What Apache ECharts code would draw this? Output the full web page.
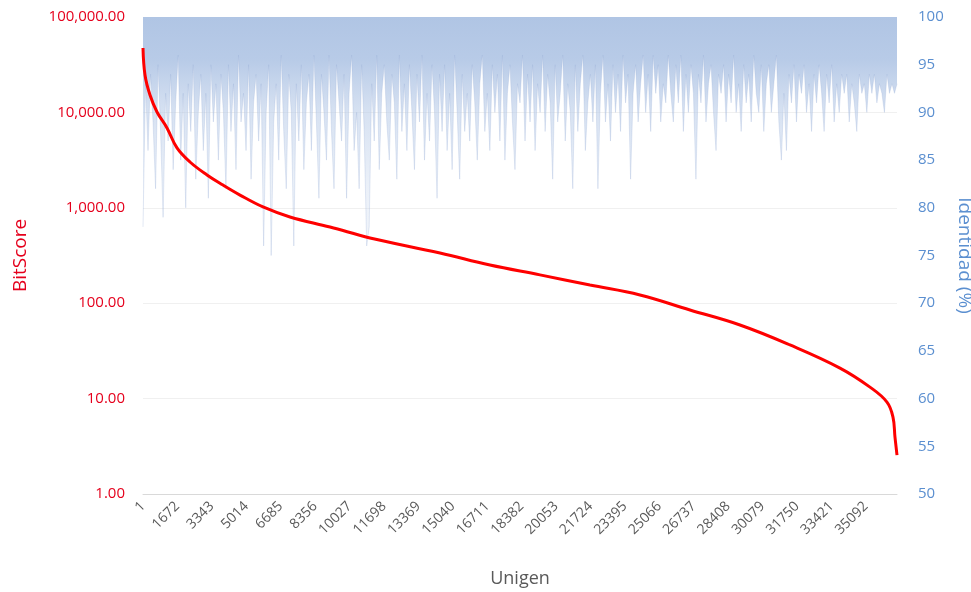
<!DOCTYPE html>
<html><head><meta charset="utf-8">
<script src="https://cdn.jsdelivr.net/npm/echarts@6/dist/echarts.min.js"></script>
<style>html,body{margin:0;padding:0;background:#fff}#c{width:971px;height:592px}</style>
</head><body><div id="c"></div>
<script>
// X axis: unigen rank (tick labels every 1671 unigenes)
const totalUnigenes = 36600;
const tickStep = 1671;

// BitScore curve (rank, bitscore)
const bitRank  = [0, 97, 340, 680, 1165, 1650, 2281, 3107, 3883, 4708, 5825, 7135, 9077, 11018, 14416, 16843, 19270, 21697, 24124, 26551, 28978, 31405, 33832, 35288, 36113, 36405, 36502, 36600];
const bitScore = [47300, 24700, 15200, 10100, 6870, 4240, 3020, 2210, 1730, 1360, 1020, 801, 629, 483, 336, 251, 198, 155, 122, 84.9, 59.1, 36.5, 20.9, 13.2, 9.2, 6.4, 3.95, 2.56];

const identityStep = 122;
const identity = [
 78,93,86,94,89,82,95,88,79,92,
 87,94,84,91,96,85,92,80,93,88,
 95,83,90,94,86,92,81,95,89,93,
 85,94,90,82,95,88,93,84,96,89,
 92,86,95,83,91,94,87,93,76,90,
 95,75,89,93,85,96,88,82,94,90,
 76,93,87,95,84,91,94,86,96,89,
 81,94,90,85,96,88,82,95,91,87,
 94,81,92,96,86,90,82,95,88,76,
 78,93,87,96,84,92,95,89,85,94,
 91,83,96,88,93,86,95,90,84,94,
 89,96,85,92,87,95,90,81,94,88,
 95,86,92,84,96,90,83,94,88,92,
 87,95,91,85,93,96,88,92,86,95,
 90,94,87,96,85,92,95,89,84,93,
 91,96,87,94,89,95,86,93,90,96,
 88,94,91,83,95,89,92,96,87,93,
 90,82,95,88,93,96,86,91,94,89,
 95,82,92,96,89,93,87,95,90,94,
 88,96,91,94,83,92,95,89,93,96,
 90,94,88,96,92,95,89,93,91,96,
 92,89,95,91,96,88,94,90,95,92,
 83,94,91,96,89,93,95,90,86,94,
 92,95,89,94,91,96,90,93,88,95,
 91,94,89,96,92,90,95,88,93,95,
 90,93,96,89,85,92,86,94,91,95,
 89,94,92,95,90,93,88,94,91,95,
 92,88,94,91,95,89,93,90,94,92,
 94,89,93,91,88,94,92,93,90,94,
 92,94,91,93,92,90,94,92,93,92,
 93
];

const red = '#fe0000', redText = '#e5001c', blue = '#5b8fd0', grey = '#595959';
const font = '"Open Sans", "Liberation Sans", sans-serif';

const bitData = bitRank.map((r, i) => [r, bitScore[i]]);
const idData = identity.map((v, i) => [i * identityStep, v]);

const chart = echarts.init(document.getElementById('c'), null, {renderer: 'canvas'});
chart.setOption({
  animation: false,
  backgroundColor: '#fff',
  grid: {left: 143, right: 74, top: 17, bottom: 98, outerBoundsMode: 'none', containLabel: false},
  xAxis: {
    type: 'value', min: 0, max: totalUnigenes, interval: tickStep,
    name: 'Unigen', nameLocation: 'middle', nameGap: 76,
    nameTextStyle: {color: grey, fontSize: 18, fontFamily: font},
    axisLine: {show: true, lineStyle: {color: '#d9d9d9'}},
    axisTick: {show: false},
    splitLine: {show: false},
    axisLabel: {rotate: 45, color: grey, fontSize: 14, fontFamily: font, margin: 10,
      showMaxLabel: false, formatter: v => String(v + 1)}
  },
  yAxis: [{
    type: 'log', logBase: 10, min: 1, max: 100000,
    name: 'BitScore', nameLocation: 'middle', nameGap: 113,
    nameTextStyle: {color: redText, fontSize: 19, fontFamily: font},
    axisLine: {show: false}, axisTick: {show: false},
    splitLine: {show: true, lineStyle: {color: '#f0f0f0'}},
    axisLabel: {color: redText, fontSize: 15, fontFamily: font, margin: 18,
      formatter: v => v.toLocaleString('en-US', {minimumFractionDigits: 2, maximumFractionDigits: 2})}
  }, {
    type: 'value', min: 50, max: 100, interval: 5, position: 'right',
    name: 'Identidad (%)', nameLocation: 'middle', nameGap: 46, nameRotate: -90,
    nameTextStyle: {color: blue, fontSize: 19, fontFamily: font},
    axisLine: {show: false}, axisTick: {show: false}, splitLine: {show: false},
    axisLabel: {color: blue, fontSize: 15, fontFamily: font, margin: 21}
  }],
  series: [{
    type: 'line', yAxisIndex: 1, data: idData, symbol: 'none', z: 1,
    lineStyle: {color: 'rgba(150,172,212,0.45)', width: 0.6},
    areaStyle: {origin: 'end', opacity: 1, color: {
      type: 'linear', x: 0, y: 0, x2: 0, y2: 1,
      colorStops: [
        {offset: 0, color: 'rgba(176,197,228,1)'},
        {offset: 0.18, color: 'rgba(180,200,230,0.95)'},
        {offset: 0.4, color: 'rgba(188,206,233,0.6)'},
        {offset: 0.7, color: 'rgba(196,212,236,0.35)'},
        {offset: 1, color: 'rgba(205,218,238,0.25)'}
      ]}}
  }, {
    type: 'line', yAxisIndex: 0, data: bitData, symbol: 'none', z: 3,
    smooth: 0.4,
    lineStyle: {color: red, width: 3}
  }]
});
</script>
</body></html>
